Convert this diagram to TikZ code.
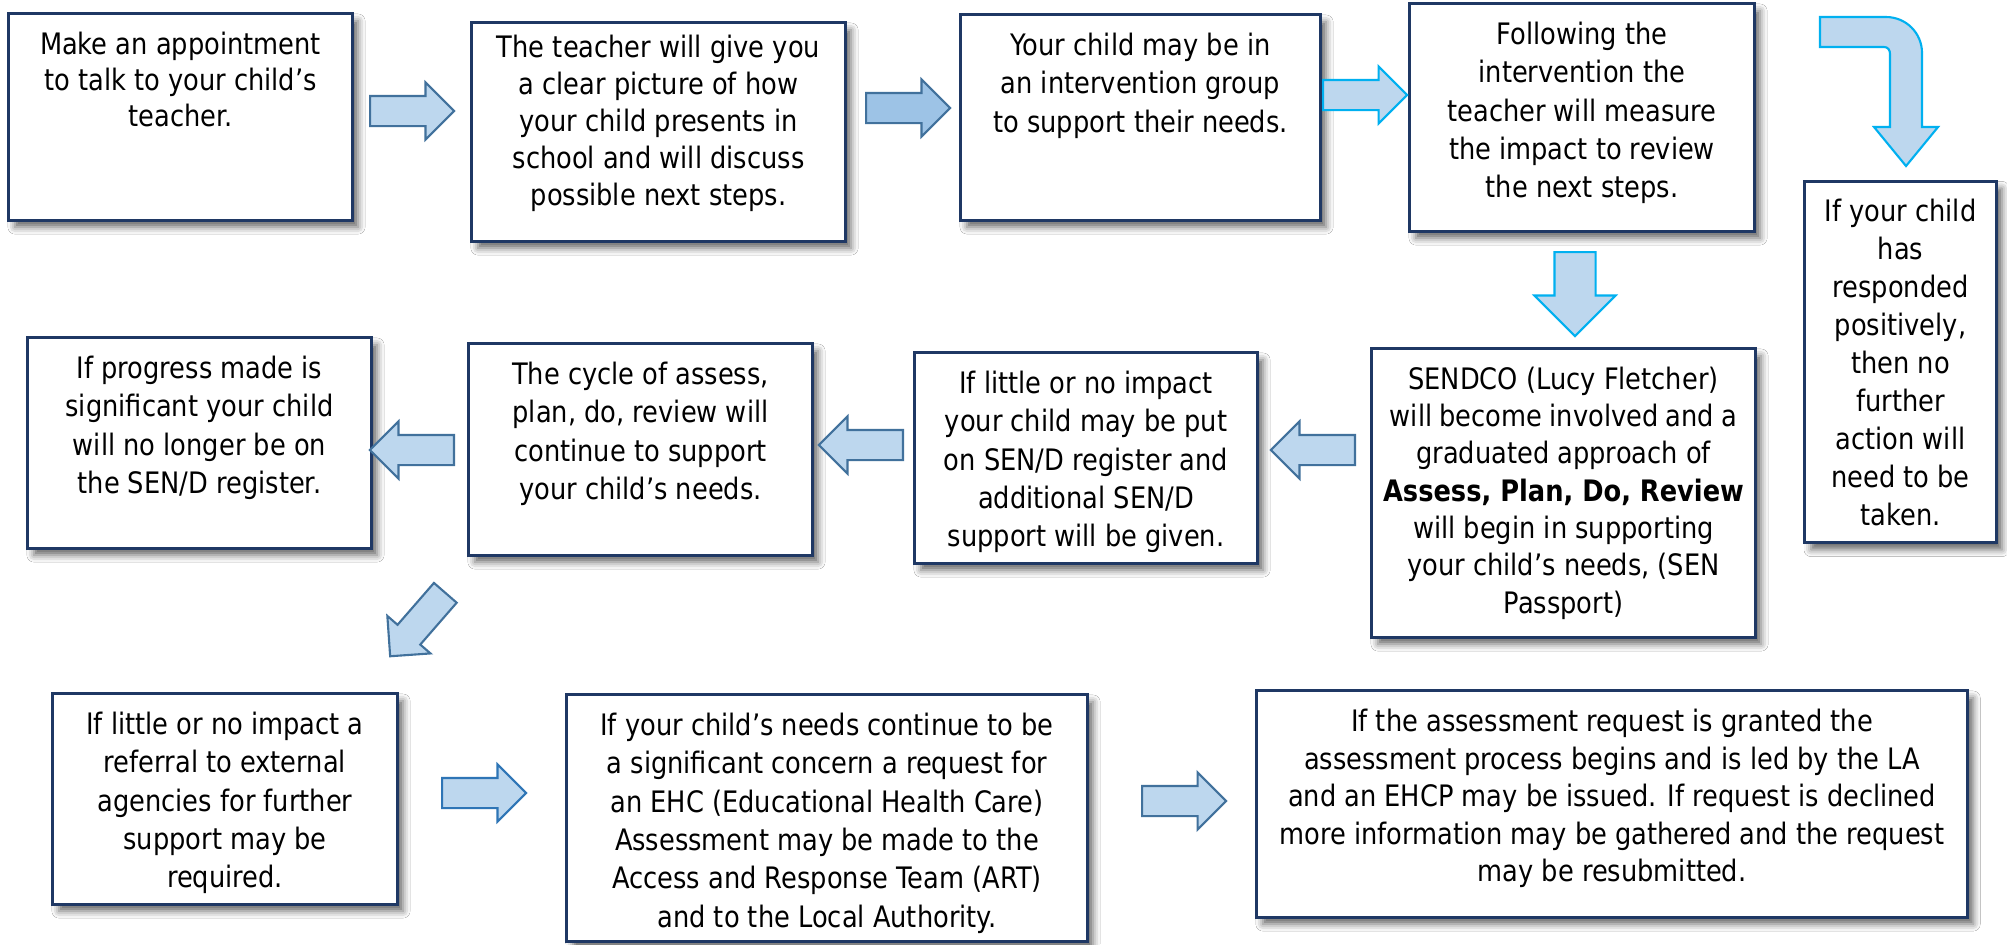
\documentclass[tikz,border=0pt]{standalone}
\usepackage{fontspec}
\setmainfont{DejaVu Sans}[FakeStretch=0.87]
\usetikzlibrary{shapes.arrows,shadows.blur}

\definecolor{navy}{HTML}{1F3864}
\definecolor{pale}{HTML}{BDD7EE}
\definecolor{midblue}{HTML}{9DC3E6}
\definecolor{steel}{HTML}{41719C}
\definecolor{cyanline}{HTML}{00B0F0}
\definecolor{brightline}{HTML}{2E75B6}

% text block that starts at the top of its box (optional: line pitch)
\newcommand{\toptext}[4][10.9]{\parbox[c][#3cm][t]{#2cm}{\centering\fontsize{8.4}{#1}\selectfont #4}}

\begin{document}
\begin{tikzpicture}[x=0.01cm, y=-0.01cm,
    font=\fontsize{8.4}{10.9}\selectfont,
    card/.style={draw=navy, line width=0.85pt, fill=white, inner sep=0.18cm,
        blur shadow={shadow xshift=0.06cm, shadow yshift=-0.07cm,
                     shadow blur radius=0.07cm, shadow opacity=60}},
    blockarrow/.style={single arrow, draw=steel, fill=pale, line width=0.6pt,
        inner sep=0pt, text height=0.28cm, text depth=0pt, anchor=tail,
        minimum height=0.84cm, minimum width=0.55cm,
        single arrow head extend=0.135cm, single arrow head indent=0pt}]

    % page
    \fill[white] (0,0) rectangle (2007,944);
    \useasboundingbox (0,0) rectangle (2007,944);

    % top row
    \node[card] (appt) at (180.5,117) {\toptext[10.2]{3.07}{1.70}{Make an appointment\\to talk to your child’s\\teacher.}};
    \node[card] (picture) at (658.5,132) {\toptext[10.5]{3.37}{1.82}{\vspace*{-0.06cm}The teacher will give you\\a clear picture of how\\your child presents in\\school and will discuss\\possible next steps.}};
    \node[card] (group) at (1140.5,117.5) {\toptext{3.23}{1.69}{Your child may be in\\an intervention group\\to support their needs.}};
    \node[card] (measure) at (1582,117.5) {\toptext{3.08}{1.91}{Following the\\intervention the\\teacher will measure\\the impact to review\\the next steps.}};
    \node[card] (positive) at (1900.5,362) {\toptext[10.8]{1.55}{3.25}{If your child\\has\\responded\\positively,\\then no\\further\\action will\\need to be\\taken.}};

    % middle row
    \node[card] (sendco) at (1563.5,493) {\toptext[10.6]{3.47}{2.52}{SENDCO (Lucy Fletcher)\\will become involved and a\\graduated approach of\\\makebox[\linewidth]{\textbf{Assess, Plan, Do, Review}}\\will begin in supporting\\your child’s needs, (SEN\\Passport)}};
    \node[card] (register) at (1086,458) {\toptext{3.06}{1.74}{If little or no impact\\your child may be put\\on SEN/D register and\\additional SEN/D\\support will be given.}};
    \node[card] (cycle) at (640.5,449.5) {\toptext{3.07}{1.75}{The cycle of assess,\\plan, do, review will\\continue to support\\your child’s needs.}};
    \node[card] (progress) at (199.5,443) {\toptext{3.07}{1.74}{If progress made is\\significant your child\\will no longer be on\\the SEN/D register.}};

    % bottom row
    \node[card] (referral) at (225,799) {\toptext{3.08}{1.74}{If little or no impact a\\referral to external\\agencies for further\\support may be\\required.}};
    \node[card] (ehc) at (827,818) {\toptext{4.84}{2.10}{If your child’s needs continue to be\\a significant concern a request for\\an EHC (Educational Health Care)\\Assessment may be made to the\\Access and Response Team (ART)\\and to the Local Authority.}};
    \node[card] (granted) at (1612,804) {\toptext[10.7]{6.74}{1.90}{If the assessment request is granted the\\assessment process begins and is led by the LA\\and an EHCP may be issued. If request is declined\\more information may be gathered and the request\\may be resubmitted.}};

    % arrows, placed by their tails
    \node[blockarrow] (appt-picture) at (369,111) {};
    \node[blockarrow, fill=midblue] (picture-group) at (865,108) {};
    \node[blockarrow, draw=cyanline] (group-measure) at (1322,95) {};
    \node[blockarrow, draw=cyanline, rotate=270, text height=0.39cm,
          minimum width=0.79cm, single arrow head extend=0.2cm] (measure-sendco) at (1575,251) {};
    \node[blockarrow, rotate=180] (sendco-register) at (1356,450) {};
    \node[blockarrow, rotate=180] (register-cycle) at (904,445) {};
    \node[blockarrow, rotate=180] (cycle-progress) at (455,450) {};
    \node[blockarrow, rotate=229] (cycle-referral) at (446,592) {};
    \node[blockarrow, draw=brightline] (referral-ehc) at (441,793) {};
    \node[blockarrow] (ehc-granted) at (1141,801) {};

    % bent arrow down to the narrow box
    \draw[fill=pale, draw=cyanline, line width=0.6pt]
        (1820,17) -- (1886,17) .. controls (1906,17) and (1922,33) .. (1922,53)
        -- (1922,127) -- (1938,127) -- (1906,166) -- (1874,127) -- (1890,127)
        -- (1890,54) .. controls (1890,50) and (1888,47) .. (1884,47) -- (1820,47) -- cycle;
\end{tikzpicture}
\end{document}
